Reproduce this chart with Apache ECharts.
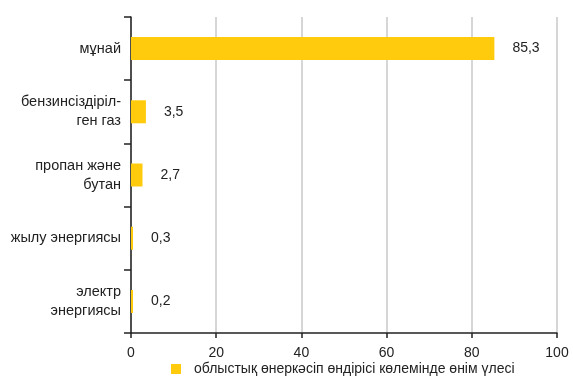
<!DOCTYPE html>
<html><head><meta charset="utf-8">
<script src="https://cdn.jsdelivr.net/npm/echarts@6/dist/echarts.min.js"></script>
<style>html,body{margin:0;padding:0;background:#fff}#c{width:573px;height:378px}</style>
</head><body><div id="c"></div>
<script>
const categories = ["мұнай", "бензинсіздіріл-\nген газ", "пропан және\nбутан", "жылу энергиясы", "электр\nэнергиясы"];
const values = [85.3, 3.5, 2.7, 0.3, 0.2];
const seriesName = "облыстық өнеркәсіп өндірісі көлемінде өнім үлесі";
const xTicks = [0, 20, 40, 60, 80, 100];

const chart = echarts.init(document.getElementById('c'));
const font = 'Liberation Sans, Arial, sans-serif';
chart.setOption({
  animation: false,
  textStyle: { fontFamily: font },
  grid: { left: 131, right: 16, top: 17, bottom: 45 },
  legend: {
    data: [seriesName], top: 362, left: 171, padding: 0,
    icon: 'rect', itemWidth: 10, itemHeight: 10, itemGap: 6,
    textStyle: { fontFamily: font, fontSize: 14, color: '#222', padding: [0, 0, 0, 8] }
  },
  xAxis: {
    type: 'value', min: xTicks[0], max: xTicks[xTicks.length - 1], interval: 20,
    axisLine: { show: true, lineStyle: { color: '#222', width: 1.5 } },
    axisTick: { show: true, length: 5, lineStyle: { color: '#222', width: 1.5 } },
    axisLabel: { fontFamily: font, fontSize: 14, color: '#222', margin: 13 },
    splitLine: { show: true, lineStyle: { color: '#c8c8c8', width: 1.5 } }
  },
  yAxis: {
    type: 'category', data: categories, inverse: true,
    axisLine: { show: true, lineStyle: { color: '#222', width: 1.5 } },
    axisTick: { show: true, length: 7, lineStyle: { color: '#222', width: 1.5 } },
    axisLabel: { fontFamily: font, fontSize: 14.5, color: '#222', margin: 10, lineHeight: 19, align: 'right' }
  },
  series: [{
    name: seriesName, type: 'bar', data: values, barWidth: 23, barMinHeight: 2,
    itemStyle: { color: '#ffcb0c' },
    label: {
      show: true, position: 'right', distance: 18, fontFamily: font, fontSize: 14, color: '#222',
      formatter: p => String(p.value).replace('.', ',')
    }
  }]
});
</script></body></html>
